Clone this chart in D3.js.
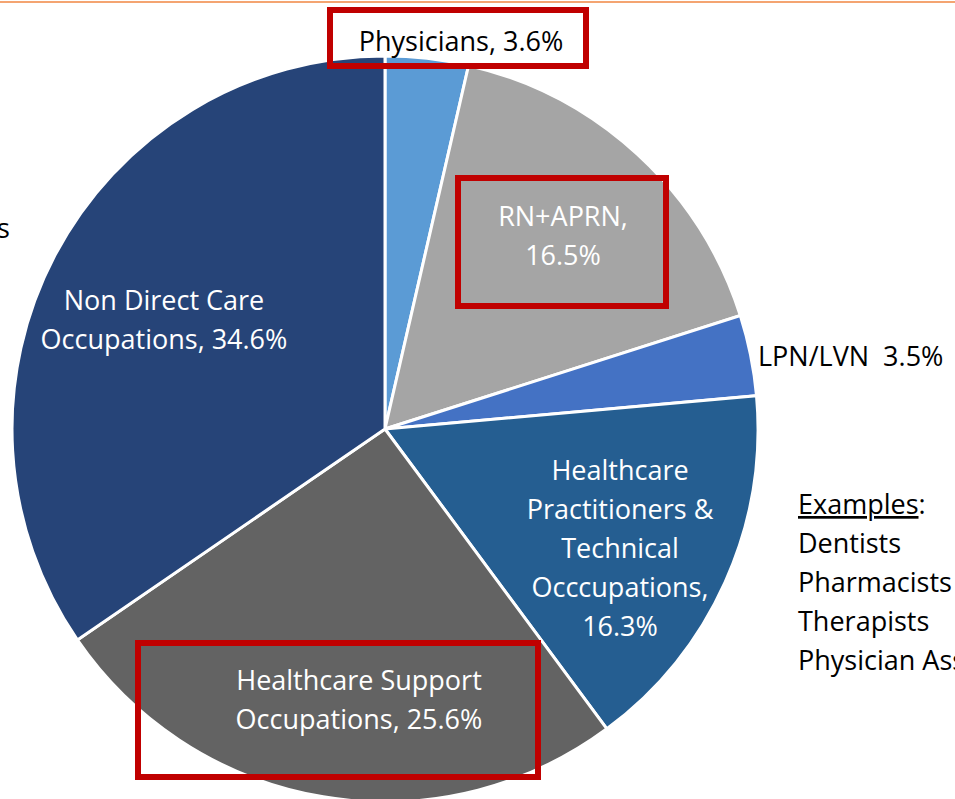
<!DOCTYPE html>
<html><head><meta charset="utf-8">
<script src="https://cdn.jsdelivr.net/npm/d3@7"></script>
<style>
html,body{margin:0;padding:0;background:#fff;overflow:hidden;}
svg{display:block;}
text{font-family:"Open Sans",sans-serif;}
</style></head>
<body>
<script>
const categories = ["Physicians","RN+APRN","LPN/LVN","Healthcare Practitioners & Technical Occcupations","Healthcare Support Occupations","Non Direct Care Occupations"];
const values = [3.6, 16.5, 3.5, 16.3, 25.6, 34.6];
const colors = ["#5B9BD5","#A5A5A5","#4472C4","#255E91","#636363","#264478"];
const labelLines = [
  ["Physicians, 3.6%"],
  ["RN+APRN,","16.5%"],
  ["LPN/LVN\u00A0\u00A03.5%"],
  ["Healthcare","Practitioners &","Technical","Occcupations,","16.3%"],
  ["Healthcare Support","Occupations, 25.6%"],
  ["Non Direct Care","Occupations, 34.6%"]
];
const examples = ["Dentists","Pharmacists","Therapists","Physician Assistants"];

const W = 955, H = 799;
const cx = 385, cy = 429, R = 373;
const svg = d3.select("body").append("svg").attr("width", W).attr("height", H);

svg.append("line").attr("x1",0).attr("x2",W).attr("y1",2).attr("y2",2)
  .attr("stroke","#F4A471").attr("stroke-width",2);

const pie = d3.pie().sort(null).value(d => d)(values);
const arc = d3.arc().innerRadius(0).outerRadius(R);
const g = svg.append("g").attr("transform",`translate(${cx},${cy})`);
g.selectAll("path").data(pie).join("path")
  .attr("d", arc)
  .attr("fill", (d,i) => colors[i])
  .attr("stroke","#fff").attr("stroke-width",3).attr("stroke-linejoin","miter");

const labelPos = [
  {x:461, y:51, color:"#000", anchor:"middle"},
  {x:563, y:226, color:"#fff", anchor:"middle"},
  {x:758, y:366, color:"#000", anchor:"start"},
  {x:620, y:480, color:"#fff", anchor:"middle"},
  {x:359, y:690, color:"#fff", anchor:"middle"},
  {x:164, y:310, color:"#fff", anchor:"middle"}
];
const lh = 39, fs = 27;
labelLines.forEach((lines,i) => {
  const p = labelPos[i];
  const t = svg.append("text").attr("text-anchor",p.anchor).attr("fill",p.color)
    .attr("font-size",fs);
  lines.forEach((l,j) => t.append("tspan").attr("x",p.x).attr("y",p.y + j*lh).text(l));
});

const boxes = [
  {x:330, y:10, w:256, h:56},
  {x:458, y:178, w:208, h:128},
  {x:138, y:643, w:400, h:134}
];
svg.selectAll("rect.box").data(boxes).join("rect").attr("class","box")
  .attr("x",d=>d.x).attr("y",d=>d.y).attr("width",d=>d.w).attr("height",d=>d.h)
  .attr("fill","none").attr("stroke","#C00000").attr("stroke-width",6);

const ex = svg.append("text").attr("font-size",fs).attr("fill","#000");
const t0 = ex.append("tspan").attr("x",798).attr("y",514);
t0.append("tspan").attr("text-decoration","underline").text("Examples");
t0.append("tspan").text(":");
examples.forEach((e,j) => ex.append("tspan").attr("x",798).attr("y",514+(j+1)*lh).text(e));

svg.append("text").attr("x",-3).attr("y",238).attr("font-size",fs).attr("fill","#000").text("s");
</script>
</body></html>
